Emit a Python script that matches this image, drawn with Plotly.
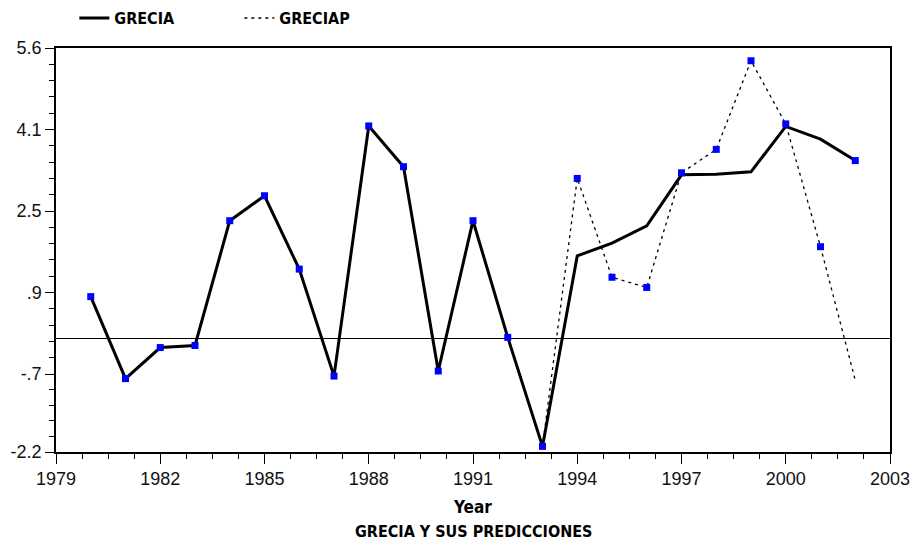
import plotly.graph_objects as go

# ---- data ----
YEARS = list(range(1980, 2003))
GRECIA = [0.82, -0.79, -0.18, -0.14, 2.31, 2.80, 1.36, -0.74, 4.17, 3.37, -0.64, 2.31,
          0.02, -2.12, 1.62, 1.87, 2.21, 3.21, 3.22, 3.27, 4.16, 3.91, 3.49]
GRECIAP = [None] * 13 + [-2.12, 3.14, 1.20, 1.00, 3.25, 3.71, 5.45, 4.21, 1.80, -0.82]
# which series carries the blue square marker in each year ("A" = GRECIA, "P" = GRECIAP)
MARKER_SOURCE = ["A"] * 14 + ["P"] * 8 + ["A"]

X_RANGE = [1979, 2003]
X_TICKS = [1979, 1982, 1985, 1988, 1991, 1994, 1997, 2000, 2003]
Y_RANGE = [-2.23, 5.70]
Y_TICK_VALS = [-2.23, -0.7, 0.9, 2.5, 4.1, 5.70]
Y_TICK_TEXT = ["-2.2", "-.7", ".9", "2.5", "4.1", "5.6"]

NARROW = "Liberation Sans Narrow, Arial Narrow, DejaVu Sans Condensed, sans-serif"
REG = "Liberation Sans, Arial, sans-serif"

# minor ticks: 4 between each pair of major y ticks
y_minor = []
for a, b in zip(Y_TICK_VALS[:-1], Y_TICK_VALS[1:]):
    for k in range(1, 5):
        y_minor.append(a + (b - a) * k / 5)

marker_y = [GRECIA[i] if s == "A" else GRECIAP[i] for i, s in enumerate(MARKER_SOURCE)]

fig = go.Figure()
fig.add_trace(go.Scatter(x=YEARS, y=GRECIAP, mode="lines", name="GRECIAP",
                         line=dict(color="black", width=1.3, dash="3px,4px")))
fig.add_trace(go.Scatter(x=YEARS, y=GRECIA, mode="lines", name="GRECIA",
                         line=dict(color="black", width=3)))
fig.add_trace(go.Scatter(x=YEARS, y=marker_y, mode="markers", showlegend=False,
                         marker=dict(symbol="square", size=7, color="#0000FF")))

fig.update_layout(
    width=914, height=544,
    margin=dict(l=56, r=24, t=48, b=92, autoexpand=False),
    paper_bgcolor="white", plot_bgcolor="white",
    showlegend=True,
    legend=dict(orientation="h", x=0.022, xanchor="left", y=1.074, yanchor="middle",
                traceorder="reversed",
                font=dict(family=NARROW, size=16, color="black", weight="bold"),
                entrywidth=120, entrywidthmode="pixels",
                bgcolor="rgba(0,0,0,0)"),
    xaxis=dict(range=X_RANGE, tickmode="array", tickvals=X_TICKS,
               ticks="outside", ticklen=10, tickwidth=1.3, tickcolor="black",
               minor=dict(tick0=1979, dtick=0.75, ticks="outside", ticklen=5,
                          tickwidth=1.3, tickcolor="black"),
               showline=True, linecolor="black", linewidth=1.5, mirror=True,
               showgrid=False, zeroline=False, automargin=False,
               tickfont=dict(family=REG, size=18, color="#111"),
               title=dict(text="Year", standoff=13,
                          font=dict(family=NARROW, size=17, color="black", weight="bold"))),
    yaxis=dict(range=Y_RANGE, tickmode="array", tickvals=Y_TICK_VALS, ticktext=Y_TICK_TEXT,
               ticks="outside", ticklen=9, tickwidth=1.3, tickcolor="black",
               minor=dict(tickmode="array", tickvals=y_minor, ticks="outside", ticklen=5,
                          tickwidth=1.3, tickcolor="black"),
               showline=True, linecolor="black", linewidth=1.5, mirror=True,
               showgrid=False, zeroline=True, zerolinecolor="black", zerolinewidth=1.3,
               automargin=False,
               tickfont=dict(family=REG, size=18, color="#111")),
    annotations=[dict(text="GRECIA Y SUS PREDICCIONES", xref="paper", yref="paper",
                      x=0.5, y=-0.198, xanchor="center", yanchor="middle", showarrow=False,
                      font=dict(family=NARROW, size=16, color="black", weight="bold"))],
)

fig.write_html("out.html", config={"displayModeBar": False},
               post_script="document.body.style.margin='0';document.body.style.overflow='hidden';")
